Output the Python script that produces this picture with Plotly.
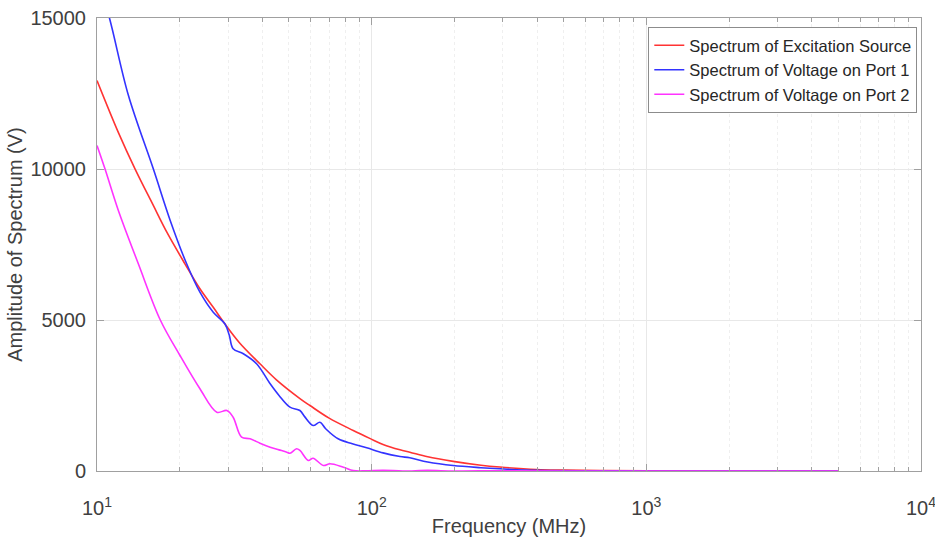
import plotly.graph_objects as go

# ---------------- data ----------------
src_f = [10, 12, 13.75, 16, 18, 20.9, 23.7, 26.5, 29.2, 33, 39.2, 45, 54.8, 59.6,
         70, 85.7, 98.4, 110, 126.8, 137.7, 160, 198, 250, 293, 399, 500, 678,
         1000, 2000, 5000]
src_v = [12930, 11180, 10007, 8810, 7890, 6861, 6033, 5420, 4874, 4250, 3550,
         3020, 2400, 2169, 1750, 1341, 1080, 880, 702, 623, 470, 320, 190, 130,
         50, 30, 17, 8, 2, 0]

p1_f = [10, 11.1, 13, 16.03, 18.5, 21.2, 23.7, 26.5, 29.2, 30.3, 31.3, 34.1, 38.1,
        42.7, 46, 50.4, 54.8, 57, 61.2, 64.8, 68, 75.5, 85, 95.9, 110, 126.8,
        137.7, 160, 198, 250, 293, 400, 700, 1000, 2000, 5000]
p1_v = [16400, 15000, 12450, 10007, 8280, 6861, 5921, 5258, 4874, 4500, 4046,
        3881, 3550, 2887, 2500, 2113, 2003, 1800, 1507, 1616, 1400, 1066, 900,
        768, 600, 480, 437, 300, 182, 110, 73, 20, 5, 2, 0, 0]

p2_f = [10, 10.69, 11.96, 14.14, 17, 20.05, 23.7, 27.3, 29.7, 31.3, 33.6, 36.1,
        39.2, 42.7, 46, 49.1, 50.4, 53.3, 54.8, 58.8, 61.2, 66.7, 70.5, 78.9,
        85.7, 95, 110, 130, 160, 200, 300, 500, 1000, 2000, 5000]
p2_v = [10778, 10007, 8626, 6861, 5000, 3824, 2722, 1947, 2003, 1781, 1119, 1066,
        921, 788, 700, 623, 589, 735, 679, 348, 424, 182, 238, 126,
        15, 5, 25, 0, 20, 0, 10, 0, 0, 0, 0]

series_names = ["Spectrum of Excitation Source", "Spectrum of Voltage on Port 1",
                "Spectrum of Voltage on Port 2"]
series_colors = ["#ff3333", "#3333ff", "#ff33ff"]

x_tickvals = [10, 100, 1000, 10000]
x_ticktext = ["10<sup>1</sup>", "10<sup>2</sup>", "10<sup>3</sup>", "10<sup>4</sup>"]
x_minor = [m * d for d in (10, 100, 1000) for m in range(2, 10)]
y_tickvals = [0, 5000, 10000, 15000]
y_ticktext = ["0", "5000", "10000", "15000"]

# ---------------- figure ----------------
fig = go.Figure()
for f, v, name, col in zip([src_f, p1_f, p2_f], [src_v, p1_v, p2_v],
                           series_names, series_colors):
    fig.add_trace(go.Scatter(x=f, y=v, mode="lines", name=name,
                             line=dict(color=col, width=1.6, shape="spline",
                                       smoothing=1.0)))

font_family = "Liberation Sans, Arial, Helvetica, sans-serif"
axis_col = "#a0a0a0"

fig.update_layout(
    width=935, height=537,
    margin=dict(l=97, r=14, t=18, b=66, autoexpand=False),
    paper_bgcolor="white", plot_bgcolor="white",
    font=dict(family=font_family, size=20, color="#404040"),
    showlegend=True,
    legend=dict(x=0.9955, y=0.98, xanchor="right", yanchor="top",
                bgcolor="white", bordercolor="#8c8c8c", borderwidth=1,
                font=dict(size=16.5, color="#262626"),
                tracegroupgap=0, itemwidth=30),
    xaxis=dict(
        type="log", range=[1, 4], automargin=False,
        tickmode="array", tickvals=x_tickvals, ticktext=x_ticktext,
        ticklabeloverflow="allow",
        ticks="inside", ticklen=7, tickcolor=axis_col, tickwidth=1,
        showline=True, linecolor=axis_col, linewidth=1, mirror="ticks",
        showgrid=True, gridcolor="#e8e8e8", gridwidth=1,
        zeroline=False,
        minor=dict(tickvals=x_minor, ticks="inside", ticklen=4,
                   tickcolor=axis_col, showgrid=True, gridcolor="#efefef",
                   griddash="dot", gridwidth=1),
        ticklabelstandoff=19,
        title=dict(text="Frequency (MHz)", font=dict(size=20, color="#404040"),
                   standoff=0),
    ),
    yaxis=dict(
        range=[0, 15000], automargin=False,
        tickmode="array", tickvals=y_tickvals, ticktext=y_ticktext,
        ticklabeloverflow="allow",
        ticks="inside", ticklen=7, tickcolor=axis_col, tickwidth=1,
        showline=True, linecolor=axis_col, linewidth=1, mirror="ticks",
        showgrid=True, gridcolor="#e8e8e8", gridwidth=1,
        zeroline=False,
        ticklabelstandoff=6,
        title=dict(text="Amplitude of Spectrum (V)",
                   font=dict(size=20, color="#404040"), standoff=2),
    ),
)

fig.write_html("out.html")
